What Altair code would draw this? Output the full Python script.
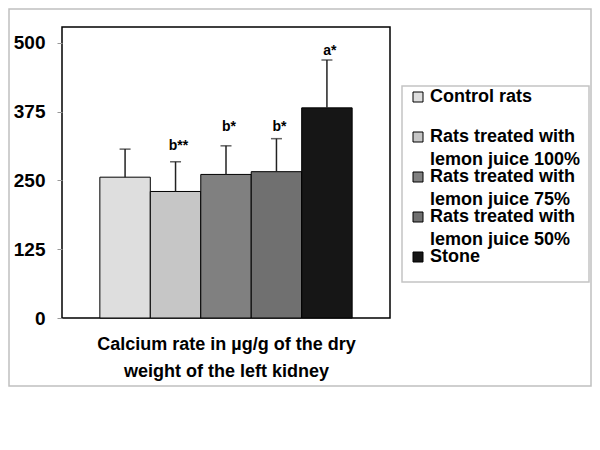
import altair as alt
import pandas as pd

# ---- data ----
groups = [
    "Control rats",
    "Rats treated with lemon juice 100%",
    "Rats treated with lemon juice 75%",
    "Rats treated with lemon juice 50%",
    "Stone",
]
means = [256, 230, 261, 266, 382]
errors = [51, 54, 52, 60, 87]
sig_labels = ["", "b**", "b*", "b*", "a*"]
sig_pos = [0, 313, 347, 347, 485]
fills = ["#dedede", "#c6c6c6", "#808080", "#707070", "#161616"]
y_ticks = [0, 125, 250, 375, 500]
legend_lines = [
    ["Control rats"],
    ["Rats treated with", "lemon juice 100%"],
    ["Rats treated with", "lemon juice 75%"],
    ["Rats treated with", "lemon juice 50%"],
    ["Stone"],
]
x_title = ["Calcium rate in µg/g of the dry", "weight of the left kidney"]

FONT = "Liberation Sans"

df = pd.DataFrame({
    "group": groups,
    "mean": means,
    "top": [m + e for m, e in zip(means, errors)],
    "sig": sig_labels,
    "sig_y": sig_pos,
})

leg_rows = []
for i, lines in enumerate(legend_lines):
    for j, t in enumerate(lines):
        leg_rows.append({"group": groups[i], "line": j, "text": t, "pos": i + j * 0.57})
leg_df = pd.DataFrame(leg_rows)
leg_sym = leg_df[leg_df["line"] == 0]

yscale = alt.Scale(domain=[0, 529], nice=False, zero=True)
xscale = alt.Scale(domain=groups, paddingInner=0, paddingOuter=0.75)
fill_scale = alt.Scale(domain=groups, range=fills)

xaxis = alt.Axis(labels=False, ticks=False, domain=False, title=x_title)
yaxis = alt.Axis(values=y_ticks, title=None, grid=False, domain=False)


def X():
    return alt.X("group:N", sort=groups, scale=xscale, axis=xaxis)


bars = alt.Chart(df).mark_bar(stroke="black", strokeWidth=1).encode(
    x=X(),
    y=alt.Y("mean:Q", scale=yscale, axis=yaxis),
    fill=alt.Fill("group:N", scale=fill_scale, legend=None),
)
rules = alt.Chart(df).mark_rule(color="#222222", strokeWidth=1.5).encode(
    x=X(),
    y=alt.Y("mean:Q", scale=yscale, axis=yaxis),
    y2="top:Q",
)
caps = alt.Chart(df).mark_tick(color="#222222", thickness=1.5, size=11).encode(
    x=X(),
    y=alt.Y("top:Q", scale=yscale, axis=yaxis),
)
sig = alt.Chart(df).transform_filter("datum.sig != ''").mark_text(
    font=FONT, fontSize=14, fontWeight="bold", color="black", dx=3, baseline="middle"
).encode(
    x=X(),
    y=alt.Y("sig_y:Q", scale=yscale, axis=yaxis),
    text="sig:N",
)
main = alt.layer(bars, rules, caps, sig)

legscale = alt.Scale(domain=[0, 4], range=[70, 230], nice=False, zero=False)
leg_box = alt.Chart(pd.DataFrame({"k": [0]})).mark_rect(
    fill="white", stroke="#c4c4c4", strokeWidth=1.5
).encode(x=alt.value(340), x2=alt.value(527), y=alt.value(59), y2=alt.value(255))
leg_symbols = alt.Chart(leg_sym).mark_square(size=100, stroke="black", strokeWidth=1, opacity=1).encode(
    x=alt.value(356),
    y=alt.Y("pos:Q", scale=legscale, axis=None),
    fill=alt.Fill("group:N", scale=fill_scale, legend=None),
)
leg_text = alt.Chart(leg_df).mark_text(
    font=FONT, fontSize=18, fontWeight="bold", color="black", align="left", baseline="middle"
).encode(
    x=alt.value(368),
    y=alt.Y("pos:Q", scale=legscale, axis=None),
    text="text:N",
)
legend = alt.layer(leg_box, leg_symbols, leg_text)

frame = alt.Chart(pd.DataFrame({"k": [0]})).mark_rect(
    fill="transparent", stroke="#c0c0c0", strokeWidth=1.5
).encode(x=alt.value(-53), x2=alt.value(529), y=alt.value(-18), y2=alt.value(359))

chart = alt.layer(frame, main, legend).resolve_scale(y="independent", fill="independent").properties(
    width=328,
    height=291,
    autosize=alt.AutoSizeParams(type="none"),
    padding={"left": 54, "top": 19, "right": 202, "bottom": 124},
).configure_view(
    stroke="black", strokeWidth=1.5
).configure_axis(
    labelFont=FONT, labelFontSize=19, labelFontWeight="bold", labelColor="black",
    labelPadding=12, tickColor="#999999", tickSize=5,
    titleFont=FONT, titleFontSize=18, titleFontWeight="bold", titleColor="black",
    titlePadding=17, titleLineHeight=27,
)

chart.save("out.html", embed_options={"renderer": "svg", "actions": False})
